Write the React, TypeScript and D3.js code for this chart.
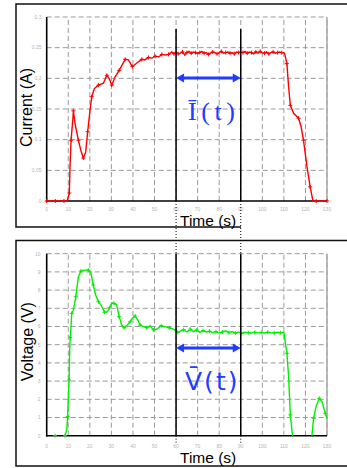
import React from "react";
import * as d3 from "d3";

const W = 347;
const H = 468;

const timeTicks = [0, 10, 20, 30, 40, 50, 60, 70, 80, 90, 100, 110, 120, 130];
const currentTicks = [0, 0.05, 0.1, 0.15, 0.2, 0.25, 0.3];
const currentTickLabels = ["0", "0.05", "0.1", "0.15", "0.2", "0.25", "0.3"];
const voltageTicks = [0, 1, 2, 3, 4, 5, 6, 7, 8, 9, 10];

const currentTime = [
  0, 2, 4, 6, 8, 9.5, 10.5, 10.8, 11.3, 12.1, 12.4, 13.1, 14.7, 15.8, 17, 18.1, 19, 20.1, 20.9, 22.1,
  24, 26.3, 27.9, 28.9, 30.2, 31.7, 33.6, 35, 36.4, 37.9, 39.7, 41.8, 44.1, 45.5, 47.2, 48.8, 50.3, 52,
  53.4, 55, 56.5, 58, 59, 60, 61, 62, 63, 64, 65, 66, 67, 68, 69, 70, 71, 72, 73, 74, 75, 76, 77, 78,
  79, 80, 81, 82, 83, 84, 85, 86, 87, 88, 89, 90, 91, 92, 93, 94, 95, 96, 97, 98, 99, 100, 101, 102,
  103, 104, 105, 106, 107, 108, 109, 110.3, 111.4, 112.2, 113, 114.5, 116.8, 118, 119.1, 120.7, 122.2,
  123.5, 125, 127, 130,
];
const currentAmps = [
  0, 0, 0, 0, 0, 0, 0.013, 0.056, 0.099, 0.132, 0.147, 0.127, 0.099, 0.083, 0.07, 0.08, 0.113, 0.148,
  0.17, 0.183, 0.189, 0.192, 0.205, 0.2, 0.189, 0.202, 0.213, 0.222, 0.231, 0.23, 0.219, 0.225, 0.231,
  0.23, 0.234, 0.233, 0.236, 0.235, 0.239, 0.238, 0.239, 0.243, 0.24, 0.243, 0.24, 0.241, 0.243, 0.238,
  0.242, 0.244, 0.241, 0.243, 0.242, 0.24, 0.242, 0.244, 0.241, 0.242, 0.239, 0.241, 0.243, 0.242,
  0.24, 0.242, 0.244, 0.241, 0.242, 0.243, 0.241, 0.242, 0.24, 0.243, 0.242, 0.243, 0.242, 0.244,
  0.241, 0.243, 0.242, 0.24, 0.243, 0.241, 0.244, 0.242, 0.241, 0.243, 0.24, 0.242, 0.243, 0.241,
  0.242, 0.243, 0.242, 0.241, 0.224, 0.186, 0.156, 0.143, 0.135, 0.121, 0.099, 0.056, 0.023, 0, 0, 0, 0,
];

const voltageTime = [
  8.5, 9.3, 9.7, 10, 10.4, 10.7, 10.9, 11.1, 11.6, 12.4, 13.5, 14.7, 15.9, 17.5, 19.3, 20.4, 21.6, 22.7,
  24, 25.2, 26.8, 28.1, 29.1, 30.2, 31.2, 32.5, 33.6, 34.8, 35.9, 37.4, 38.7, 39.7, 41, 42.2, 43.3,
  44.9, 46.4, 48, 49.5, 51.1, 53.1, 54.9, 56.8, 58.8, 60.8, 62, 63.5, 65, 66.6, 68, 69.5, 71, 72.5, 74,
  75.5, 77, 78.5, 80, 81.5, 83, 84.5, 86, 87.5, 89, 90.5, 92, 93.5, 95, 96.5, 98, 99.5, 101, 102.5, 104,
  105.5, 107, 108.5, 110, 111.4, 112.2, 113, 114, 118, 123, 123.8, 124.9, 126.4, 127.7, 129.2, 130,
];
const voltageVolts = [
  0, 0.3, 1.05, 1.96, 3.06, 4.9, 5.4, 5.63, 6.72, 6.9, 7.64, 8.74, 9.05, 9.1, 9.1, 9.0, 8.28, 7.73, 7.36,
  7.18, 6.78, 6.81, 7.03, 7.3, 7.27, 7.18, 6.54, 6.08, 5.93, 6.08, 6.26, 6.45, 6.58, 6.36, 6.08, 5.99,
  5.93, 6.04, 5.81, 5.86, 6.04, 5.99, 5.93, 5.86, 5.68, 5.75, 5.82, 5.7, 5.86, 5.72, 5.8, 5.68, 5.78,
  5.7, 5.74, 5.66, 5.72, 5.64, 5.7, 5.76, 5.66, 5.72, 5.64, 5.7, 5.62, 5.68, 5.66, 5.64, 5.68, 5.65,
  5.67, 5.64, 5.68, 5.66, 5.65, 5.68, 5.66, 5.68, 4.53, 3.24, 1.14, 0, NaN, 0, 0.96, 1.6, 2.05, 1.87,
  1.23, 0.96,
];
const voltageStray = [3.9];

const cursorTimes = [60, 90];

const x = d3.scaleLinear().domain([0, 130]).range([46.7, 327]);
const yI = d3.scaleLinear().domain([0, 0.3]).range([201, 17]);
const yV = d3.scaleLinear().domain([0, 10]).range([435.7, 253.7]);

const GRID = "#9a9a9a";
const TICK = "#b4b4b4";
const BLUE = "#1f3cff";

function Grid({ y, ticks }: { y: d3.ScaleLinear<number, number>; ticks: number[] }) {
  const [y0, y1] = y.range();
  return (
    <g>
      {timeTicks.slice(1).map((t) => (
        <line key={"v" + t} x1={x(t)} x2={x(t)} y1={y0} y2={y1} stroke={GRID} strokeWidth={1} strokeDasharray="5,3" />
      ))}
      {ticks.slice(1).map((v) => (
        <line key={"h" + v} x1={x(0)} x2={x(130)} y1={y(v)} y2={y(v)} stroke={GRID} strokeWidth={1} strokeDasharray="5,3" />
      ))}
      <line x1={x(130)} x2={x(130)} y1={y0} y2={y1} stroke="#a8a8a8" strokeWidth={1.5} />
      <line x1={x(0)} x2={x(0)} y1={y0 + 1} y2={y1} stroke="#000" strokeWidth={1.6} />
      <line x1={x(0)} x2={x(130)} y1={y0} y2={y0} stroke="#000" strokeWidth={1.6} />
    </g>
  );
}

function Plus({ cx, cy, color }: { cx: number; cy: number; color: string }) {
  return <path d={`M${cx - 2},${cy}H${cx + 2}M${cx},${cy - 2}V${cy + 2}`} stroke={color} strokeWidth={1} />;
}

function Arrow({ x1, x2, y }: { x1: number; x2: number; y: number }) {
  const hl = 8;
  const hw = 4.5;
  return (
    <g fill={BLUE}>
      <line x1={x1 + hl - 1} x2={x2 - hl + 1} y1={y} y2={y} stroke={BLUE} strokeWidth={3} />
      <path d={`M${x1},${y}L${x1 + hl},${y - hw}L${x1 + hl},${y + hw}Z`} />
      <path d={`M${x2},${y}L${x2 - hl},${y - hw}L${x2 - hl},${y + hw}Z`} />
    </g>
  );
}

export default function App() {
  const curIdx = currentTime.map((_, i) => i);
  const volIdx = voltageTime.map((_, i) => i);
  const lineI = d3
    .line<number>()
    .x((i) => x(currentTime[i]))
    .y((i) => yI(currentAmps[i]));
  const lineV = d3
    .line<number>()
    .defined((i) => !isNaN(voltageVolts[i]))
    .x((i) => x(voltageTime[i]))
    .y((i) => yV(voltageVolts[i]));

  const sans = "'Liberation Sans', Arial, sans-serif";

  return (
    <svg
      width={W}
      height={H}
      style={{ position: "absolute", left: 0, top: 0, background: "#fff" }}
    >
      {/* panel borders */}
      <path d={`M${W + 2},4H16V227H241`} fill="none" stroke="#111" strokeWidth={1.5} />
      <path d={`M${W + 2},240.5H16V466H${W + 2}`} fill="none" stroke="#111" strokeWidth={1.5} />

      {/* top panel */}
      <Grid y={yI} ticks={currentTicks} />
      {currentTicks.map((v, i) => (
        <text key={"ti" + v} x={41.5} y={yI(v) + 1.8} fontSize={5} fill={TICK} textAnchor="end" fontFamily={sans}>
          {currentTickLabels[i]}
        </text>
      ))}
      {timeTicks.map((t) => (
        <text key={"tx" + t} x={x(t)} y={211} fontSize={5} fill={TICK} textAnchor="middle" fontFamily={sans}>
          {t}
        </text>
      ))}
      <path d={lineI(curIdx) || ""} fill="none" stroke="#ff0000" strokeWidth={1.4} />
      {curIdx
        .filter((i) => i % 2 === 0)
        .map((i) => (
          <Plus key={"pi" + i} cx={x(currentTime[i])} cy={yI(currentAmps[i])} color="#ff0000" />
        ))}
      <text transform="translate(31.5,107.5) rotate(-90)" fontSize={16} textAnchor="middle" fontFamily={sans} fill="#000">
        Current (A)
      </text>
      <text x={180} y={225.5} fontSize={15.5} fontFamily={sans} fill="#000">
        Time (s)
      </text>

      {/* bottom panel */}
      <Grid y={yV} ticks={voltageTicks} />
      {voltageTicks.map((v) => (
        <text key={"vi" + v} x={40.5} y={yV(v) + 1.8} fontSize={5} fill={TICK} textAnchor="end" fontFamily={sans}>
          {v}
        </text>
      ))}
      {timeTicks.map((t) => (
        <text key={"vx" + t} x={x(t)} y={447.5} fontSize={5} fill={TICK} textAnchor="middle" fontFamily={sans}>
          {t}
        </text>
      ))}
      <path d={lineV(volIdx) || ""} fill="none" stroke="#00ee00" strokeWidth={1.4} />
      {volIdx
        .filter((i) => i % 2 === 0 && !isNaN(voltageVolts[i]))
        .map((i) => (
          <Plus key={"pv" + i} cx={x(voltageTime[i])} cy={yV(voltageVolts[i])} color="#00ee00" />
        ))}
      {voltageStray.map((t) => (
        <Plus key={"sv" + t} cx={x(t)} cy={yV(0)} color="#00ee00" />
      ))}
      <text transform="translate(33,341.7) rotate(-90)" fontSize={16} textAnchor="middle" fontFamily={sans} fill="#000">
        Voltage (V)
      </text>
      <text x={180} y={462.5} fontSize={15.5} fontFamily={sans} fill="#000">
        Time (s)
      </text>

      {/* cursor lines */}
      {cursorTimes.map((t) => (
        <g key={"c" + t}>
          <line x1={x(t)} x2={x(t)} y1={29} y2={yI(0)} stroke="#000" strokeWidth={1.5} />
          <line x1={x(t)} x2={x(t)} y1={yI(0)} y2={yV(10)} stroke="#000" strokeWidth={1} strokeDasharray="1,2" />
          <line x1={x(t)} x2={x(t)} y1={yV(10)} y2={yV(0)} stroke="#000" strokeWidth={1.5} />
          <line x1={x(t)} x2={x(t)} y1={yV(0)} y2={444} stroke="#000" strokeWidth={1} strokeDasharray="1,2" />
        </g>
      ))}

      {/* averaging arrows and labels */}
      <Arrow x1={x(cursorTimes[0])} x2={x(cursorTimes[1])} y={78} />
      <Arrow x1={x(cursorTimes[0])} x2={x(cursorTimes[1])} y={348} />
      <text x={188} y={120} fontSize={26} fill={BLUE} fontFamily="'Liberation Serif', 'Times New Roman', serif" textLength={47} lengthAdjust="spacing">
        Ī(t)
      </text>
      <text x={185} y={390} fontSize={25} fill={BLUE} fontFamily="'DejaVu Sans', sans-serif">
        <tspan>V̄</tspan>
        <tspan dx={2}>(</tspan>
        <tspan dx={2}>t</tspan>
        <tspan dx={2}>)</tspan>
      </text>
    </svg>
  );
}
